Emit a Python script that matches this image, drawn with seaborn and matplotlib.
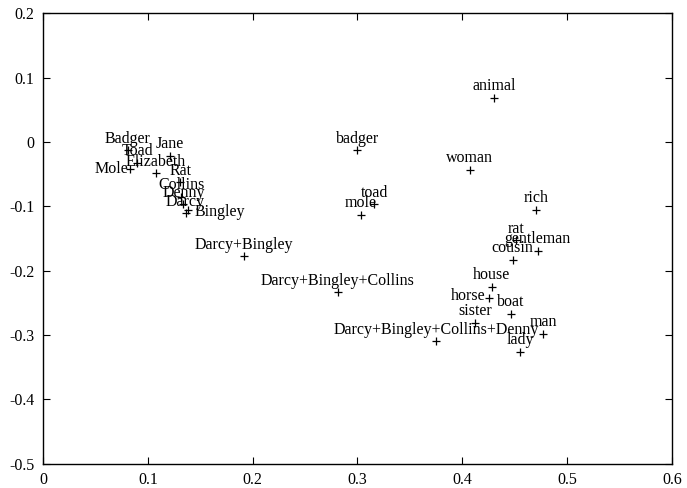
import matplotlib
matplotlib.use("Agg")
import matplotlib.pyplot as plt
import seaborn as sns
import pandas as pd

# word positions
words = ["animal", "badger", "woman", "toad", "mole", "rich", "rat", "gentleman",
         "cousin", "house", "horse", "boat", "sister", "man", "lady",
         "Darcy+Bingley+Collins+Denny", "Darcy+Bingley+Collins", "Darcy+Bingley",
         "Badger", "Toad", "Mole", "Jane", "Elizabeth", "Rat",
         "Collins", "Denny", "Darcy", "Bingley"]
xs = [0.430, 0.300, 0.407, 0.316, 0.303, 0.470, 0.451, 0.472,
      0.448, 0.428, 0.425, 0.446, 0.412, 0.477, 0.455,
      0.375, 0.281, 0.192,
      0.081, 0.090, 0.083, 0.121, 0.108, 0.131,
      0.132, 0.134, 0.136, 0.138]
ys = [0.069, -0.013, -0.044, -0.097, -0.113, -0.106, -0.153, -0.169,
      -0.183, -0.225, -0.243, -0.268, -0.282, -0.299, -0.326,
      -0.310, -0.234, -0.178,
      -0.013, -0.033, -0.042, -0.022, -0.049, -0.063,
      -0.086, -0.097, -0.111, -0.106]

xticks = [0, 0.1, 0.2, 0.3, 0.4, 0.5, 0.6]
yticks = [-0.5, -0.4, -0.3, -0.2, -0.1, 0, 0.1, 0.2]

df = pd.DataFrame({"word": words, "x": xs, "y": ys})

sns.set_style("ticks")
plt.rcParams["font.family"] = ["Liberation Serif", "DejaVu Serif"]
plt.rcParams["axes.unicode_minus"] = False

fig = plt.figure(figsize=(6.87, 4.88), dpi=100)
ax = fig.add_axes([0.0626, 0.0502, 0.9155, 0.9225])

sns.scatterplot(data=df, x="x", y="y", marker="+", s=40, color="black",
                linewidth=0.9, ax=ax, legend=False)

# most labels sit centred just above their point; a few are pushed aside
side = {"Mole": ((-1.5, 0), "right"), "Bingley": ((5, -1), "left"),
        "horse": ((-2, 1.5), "right")}
for w, x, y in zip(words, xs, ys):
    off, ha = side.get(w, ((0, 8.5), "center"))
    ax.annotate(w, (x, y), xytext=off, textcoords="offset points",
                ha=ha, va="center", fontsize=11.5, color="black")

ax.set_xlim(0, 0.6)
ax.set_ylim(-0.5, 0.2)
ax.set_xticks(xticks)
ax.set_yticks(yticks)
ax.set_xticklabels([f"{v:g}" for v in xticks])
ax.set_yticklabels([f"{v:g}" for v in yticks])
ax.set_xlabel("")
ax.set_ylabel("")
ax.tick_params(direction="in", length=5, width=0.8, labelsize=11.5,
               top=True, right=True, pad=6, colors="black")
for sp in ax.spines.values():
    sp.set_linewidth(1.0)
    sp.set_color("black")

fig.savefig("out.png", dpi=100)
